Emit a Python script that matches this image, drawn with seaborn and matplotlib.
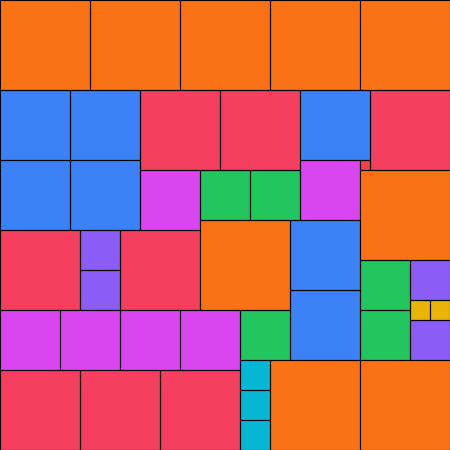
import numpy as np
import seaborn as sns
import matplotlib.pyplot as plt
from matplotlib.colors import ListedColormap
from matplotlib.patches import Rectangle

# Partridge tiling: n squares of side n (n = 1..9) fill a 45 x 45 square
sizes = [1, 2, 3, 4, 5, 6, 7, 8, 9]
counts = [1, 2, 3, 4, 5, 6, 7, 8, 9]
colors = ["#ef4444", "#eab308", "#06b6d4", "#8b5cf6", "#22c55e",
          "#d946ef", "#3b82f6", "#f43f5e", "#f97316"]
# sizes in the order they are dropped into the first empty cell (row by row)
order = [9, 9, 9, 9, 9,
         7, 7, 8, 8, 7, 8,
         7, 7, 6, 1,
         6, 5, 5, 9,
         9, 7,
         8, 4, 8,
         5, 4,
         4,
         7,
         2, 2,
         6, 6, 6, 6, 5, 5,
         4,
         3, 9, 9,
         8, 8, 8,
         3, 3]
side = 45


def place(order, side):
    """
    Fill the board: each square goes to the top-left-most empty cell
    Returns: grid of sizes (side x side), list of (x, y, size)
    """
    grid = np.zeros((side, side), dtype=int)
    placed = []
    for s in order:
        ys, xs = np.nonzero(grid == 0)
        y, x = ys[0], xs[0]
        assert (grid[y:y + s, x:x + s] == 0).all()
        grid[y:y + s, x:x + s] = s
        placed.append((x, y, s))
    return grid, placed


grid, placed = place(order, side)

fig = plt.figure(figsize=(4.5, 4.5), dpi=100)
ax = fig.add_axes([0, 0, 1, 1])
sns.heatmap(grid, cmap=ListedColormap(colors), vmin=0.5, vmax=9.5,
            cbar=False, xticklabels=False, yticklabels=False, ax=ax)
for x, y, s in placed:
    ax.add_patch(Rectangle((x, y), s, s, facecolor="none",
                           edgecolor="black", linewidth=0.8))
ax.set_xlim(0, side)
ax.set_ylim(side, 0)
ax.set_axis_off()
fig.savefig("out.png", dpi=100)
